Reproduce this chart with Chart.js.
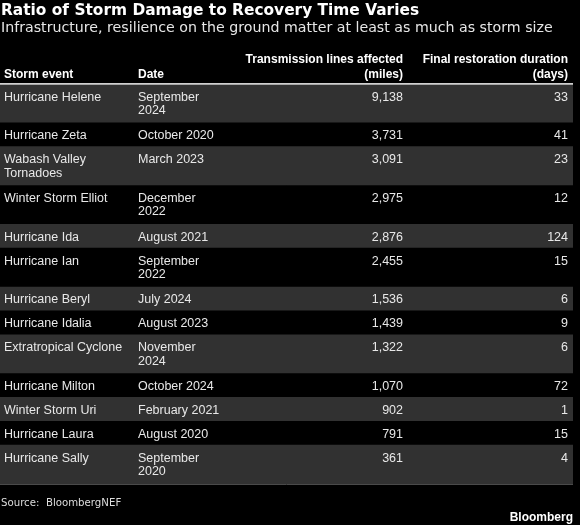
<!DOCTYPE html>
<html>
<head>
<meta charset="utf-8">
<script src="https://cdn.jsdelivr.net/npm/chart.js@4/dist/chart.umd.min.js"></script>
<style>
html,body{margin:0;padding:0;background:#000;}
#wrap{width:580px;height:525px;position:relative;background:#000;}
canvas{display:block;}
</style>
</head>
<body>
<div id="wrap"><canvas id="c" width="580" height="525"></canvas></div>
<script>
// ---------- data ----------
const storms = ["Hurricane Helene","Hurricane Zeta","Wabash Valley Tornadoes","Winter Storm Elliot","Hurricane Ida","Hurricane Ian","Hurricane Beryl","Hurricane Idalia","Extratropical Cyclone","Hurricane Milton","Winter Storm Uri","Hurricane Laura","Hurricane Sally"];
const dates = ["September 2024","October 2020","March 2023","December 2022","August 2021","September 2022","July 2024","August 2023","November 2024","October 2024","February 2021","August 2020","September 2020"];
const miles = [9138,3731,3091,2975,2876,2455,1536,1439,1322,1070,902,791,361];
const days = [33,41,23,12,124,15,6,9,6,72,1,15,4];
const columnHeaders = ["Storm event","Date","Transmission lines affected (miles)","Final restoration duration (days)"];
const titleText = "Ratio of Storm Damage to Recovery Time Varies";
const subtitleText = "Infrastructure, resilience on the ground matter at least as much as storm size";
const sourceText = "Source:  BloombergNEF";
const brandText = "Bloomberg";

// ---------- layout / style ----------
const W = 580, H = 525;
const TABLE_RIGHT = 573, TABLE_TOP = 84, TABLE_BOTTOM = 484;
const BODY_FONT = '12.5px "Liberation Sans", Arial, sans-serif';
const HEAD_FONT = 'bold 12px "Liberation Sans", Arial, sans-serif';
const TITLE_FONT = 'bold 15.4px "DejaVu Sans", sans-serif';
const SUB_FONT = '14.2px "DejaVu Sans", sans-serif';
const SRC_FONT = '10.2px "DejaVu Sans", sans-serif';
const BRAND_FONT = 'bold 12px "Liberation Sans", Arial, sans-serif';
const cols = [
  {x: 4,   w: 130, align: 'left'},
  {x: 138, w: 85,  align: 'left'},
  {x: 403, w: 165, align: 'right'},
  {x: 568, w: 155, align: 'right'}
];
const ROW_PAD = 9, ROW_LINE = 15, FIRST_BASE = 16.5, TEXT_STEP = 13.5;
const HEAD_BASE = 78.3, HEAD_STEP = 15.6;

const fmt = v => v.toLocaleString('en-US');

function wrap(ctx, text, maxW) {
  const words = String(text).split(' ');
  const lines = [];
  let cur = '';
  for (const w of words) {
    const t = cur ? cur + ' ' + w : w;
    if (!cur || ctx.measureText(t).width <= maxW) cur = t;
    else { lines.push(cur); cur = w; }
  }
  if (cur) lines.push(cur);
  return lines;
}

// measure wrapping to derive row extents
const mctx = document.createElement('canvas').getContext('2d');
mctx.font = BODY_FONT;
const rows = storms.map((s, i) => {
  const cells = [s, dates[i], fmt(miles[i]), fmt(days[i])].map((t, c) => wrap(mctx, t, cols[c].w));
  const n = Math.max(...cells.map(l => l.length));
  return {cells, n};
});
let acc = 0;
rows.forEach(r => { r.start = acc; acc += ROW_PAD + ROW_LINE * r.n; r.end = acc; });
const total = acc;
const bounds = [0, ...rows.map(r => r.end)];

const tablePlugin = {
  id: 'tableText',
  afterDraw(chart) {
    const ctx = chart.ctx;
    const ys = chart.scales.y;
    const xs = chart.scales.x;
    ctx.save();
    ctx.textBaseline = 'alphabetic';
    // title & subtitle
    ctx.textAlign = 'left';
    ctx.fillStyle = '#ffffff';
    ctx.font = TITLE_FONT;
    ctx.fillText(titleText, 1, 15);
    ctx.fillStyle = '#e6e6e6';
    ctx.font = SUB_FONT;
    ctx.fillText(subtitleText, 1, 31.7);
    // headers (bottom aligned)
    ctx.font = HEAD_FONT;
    ctx.fillStyle = '#ffffff';
    columnHeaders.forEach((h, c) => {
      const lines = wrap(ctx, h, cols[c].w);
      ctx.textAlign = cols[c].align;
      const x = xs.getPixelForValue(cols[c].x);
      lines.forEach((ln, k) => {
        ctx.fillText(ln, x, HEAD_BASE - (lines.length - 1 - k) * HEAD_STEP);
      });
    });
    // body cells
    ctx.font = BODY_FONT;
    ctx.fillStyle = '#e8e8e8';
    rows.forEach(r => {
      const top = ys.getPixelForValue(r.start);
      r.cells.forEach((lines, c) => {
        ctx.textAlign = cols[c].align;
        const x = xs.getPixelForValue(cols[c].x);
        lines.forEach((ln, k) => ctx.fillText(ln, x, top + FIRST_BASE + k * TEXT_STEP));
      });
    });
    // footer
    ctx.textAlign = 'left';
    ctx.font = SRC_FONT;
    ctx.fillStyle = '#dddddd';
    ctx.fillText(sourceText, 1, 506);
    ctx.textAlign = 'right';
    ctx.font = BRAND_FONT;
    ctx.fillStyle = '#ffffff';
    ctx.fillText(brandText, xs.getPixelForValue(TABLE_RIGHT), 521);
    ctx.restore();
  }
};

new Chart(document.getElementById('c'), {
  type: 'bar',
  data: {
    datasets: [{
      data: rows.map(r => ({x: TABLE_RIGHT / 2, y: [r.start, r.end]})),
      backgroundColor: rows.map((r, i) => i % 2 === 0 ? '#313131' : '#000000'),
      borderWidth: 0,
      barThickness: TABLE_RIGHT,
      grouped: false
    }]
  },
  options: {
    responsive: false,
    animation: false,
    events: [],
    layout: {padding: {top: TABLE_TOP, bottom: H - TABLE_BOTTOM, left: 0, right: W - TABLE_RIGHT}},
    plugins: {legend: {display: false}, tooltip: {enabled: false}, title: {display: false}},
    scales: {
      x: {
        type: 'linear', min: 0, max: TABLE_RIGHT, offset: false,
        ticks: {display: false},
        grid: {display: false},
        border: {display: false},
        afterFit: s => { s.height = 0; }
      },
      y: {
        type: 'linear', reverse: true, min: 0, max: total, z: 1,
        afterBuildTicks: s => { s.ticks = bounds.map(v => ({value: v})); },
        afterFit: s => { s.width = 0; },
        ticks: {display: false},
        border: {display: false},
        grid: {
          drawTicks: false,
          color: c => (c.tick && c.tick.value === 0) ? '#cfcfcf' : '#4a4a4a',
          lineWidth: c => (c.tick && c.tick.value === 0) ? 2 : 1
        }
      }
    }
  },
  plugins: [tablePlugin]
});
</script>
</body>
</html>
